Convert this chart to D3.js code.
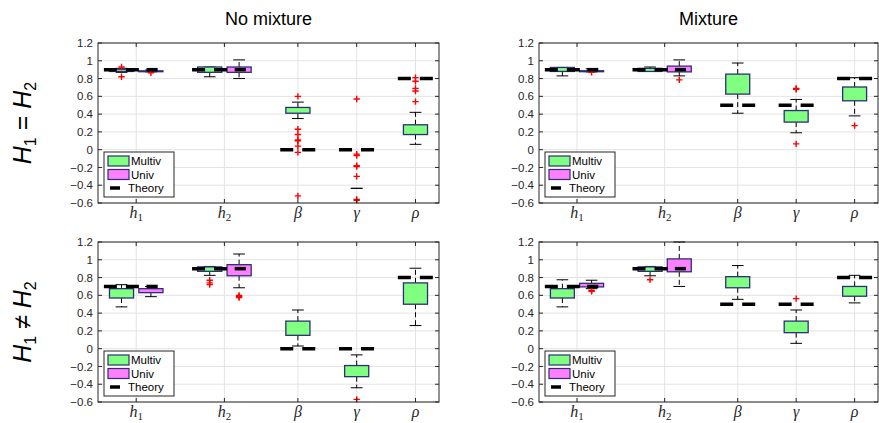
<!DOCTYPE html>
<html><head><meta charset="utf-8">
<script src="https://cdn.jsdelivr.net/npm/d3@7"></script>
<style>
body{margin:0;background:#fff;}
svg{display:block;font-family:"Liberation Sans",Arial,sans-serif;}
</style></head>
<body><svg id="c" width="879" height="423"></svg>
<script>
// ---------- data ----------
const categories = ["h1","h2","β","γ","ρ"];
const categoryTickPos = [2.25, 3.75, 5, 6, 7];
const multivPos = [2, 3.5, 5, 6, 7];
const univPos = [2.5, 4];
const legendLabels = ["Multiv","Univ","Theory"];
const columnTitles = ["No mixture","Mixture"];
const yTicks = [-0.6,-0.4,-0.2,0,0.2,0.4,0.6,0.8,1,1.2];

// stats: [low whisker, q1, median, q3, high whisker, outliers]
const noMixEqMultiv = [
  [0.87,0.88,0.89,0.905,0.915,[0.93,0.82]],
  [0.82,0.87,0.90,0.93,0.93,[]],
  [0.35,0.41,0.44,0.475,0.535,[0.60,0.23,0.17,0.11,0.10,0.04,-0.03,-0.52]],
  [-0.435,-0.435,-0.435,-0.435,-0.435,[0.57,-0.05,-0.065,-0.18,-0.19,-0.30,-0.56,-0.57]],
  [0.06,0.17,0.22,0.28,0.42,[0.54,0.66,0.69,0.77,0.81]]
];
const noMixEqUniv = [
  [0.875,0.877,0.88,0.887,0.895,[0.865]],
  [0.80,0.87,0.90,0.93,1.01,[]]
];
const noMixEqTheory = [0.9,0.9,0,0,0.8];

const mixEqMultiv = [
  [0.83,0.88,0.90,0.925,0.925,[]],
  [0.88,0.88,0.90,0.915,0.93,[]],
  [0.41,0.625,0.72,0.85,0.975,[]],
  [0.19,0.31,0.38,0.44,0.565,[0.68,0.69,0.065]],
  [0.38,0.55,0.65,0.705,0.81,[0.27]]
];
const mixEqUniv = [
  [0.875,0.877,0.88,0.888,0.91,[0.87]],
  [0.83,0.875,0.90,0.94,1.01,[0.785]]
];
const mixEqTheory = [0.9,0.9,0.5,0.5,0.8];

const noMixNeqMultiv = [
  [0.47,0.57,0.63,0.675,0.72,[]],
  [0.825,0.87,0.90,0.92,0.925,[0.77,0.74,0.72]],
  [0.03,0.15,0.24,0.31,0.435,[]],
  [-0.44,-0.315,-0.25,-0.19,-0.07,[-0.57]],
  [0.26,0.50,0.62,0.74,0.905,[]]
];
const noMixNeqUniv = [
  [0.585,0.63,0.65,0.675,0.70,[]],
  [0.685,0.82,0.88,0.945,1.065,[0.60,0.585,0.575]]
];
const noMixNeqTheory = [0.7,0.9,0,0,0.8];

const mixNeqMultiv = [
  [0.47,0.57,0.63,0.675,0.775,[]],
  [0.82,0.87,0.90,0.92,0.925,[0.775]],
  [0.555,0.685,0.75,0.81,0.935,[]],
  [0.06,0.18,0.25,0.31,0.435,[0.563]],
  [0.515,0.59,0.65,0.70,0.825,[]]
];
const mixNeqUniv = [
  [0.675,0.695,0.71,0.735,0.77,[0.655,0.645]],
  [0.70,0.865,0.93,1.01,1.2,[]]
];
const mixNeqTheory = [0.7,0.9,0.5,0.5,0.8];

// ---------- layout ----------
const svg = d3.select("#c");
const colors = {Multiv:"#80ff80", Univ:"#ff80ff", edge:"#2e2e78", axis:"#262626", grid:"#e3e3e3", out:"#ff0000"};
const panels = [
  {x0:98, x1:439, y0:43, y1:203, m:noMixEqMultiv, u:noMixEqUniv, t:noMixEqTheory},
  {x0:539, x1:878, y0:43, y1:203, m:mixEqMultiv, u:mixEqUniv, t:mixEqTheory},
  {x0:98, x1:439, y0:242, y1:402, m:noMixNeqMultiv, u:noMixNeqUniv, t:noMixNeqTheory},
  {x0:539, x1:878, y0:242, y1:402, m:mixNeqMultiv, u:mixNeqUniv, t:mixNeqTheory}
];
const xDomain = [1.6, 7.4];
const boxW = 0.41, capW = 0.2, theoryW = 0.6, univTheoryW = 0.19;

function catLabel(sel, c){
  const map = {h1:["h","1"], h2:["h","2"]};
  if(map[c]){
    sel.append("tspan").attr("font-style","italic").text(map[c][0]);
    sel.append("tspan").attr("font-size",11).attr("dy",3).text(map[c][1]);
  } else {
    sel.append("tspan").attr("font-style","italic").text(c);
  }
}

panels.forEach((p,pi)=>{
  const x = d3.scaleLinear().domain(xDomain).range([p.x0,p.x1]);
  const y = d3.scaleLinear().domain([-0.6,1.2]).range([p.y1,p.y0]);
  const g = svg.append("g");
  const clipId = "clip"+pi;
  svg.append("clipPath").attr("id",clipId).append("rect")
    .attr("x",p.x0).attr("y",p.y0-1).attr("width",p.x1-p.x0).attr("height",p.y1-p.y0+2);

  // grid
  g.selectAll(".gy").data(yTicks).join("line")
    .attr("x1",p.x0).attr("x2",p.x1).attr("y1",d=>y(d)).attr("y2",d=>y(d))
    .attr("stroke",colors.grid).attr("stroke-width",1);
  g.selectAll(".gx").data(categoryTickPos).join("line")
    .attr("x1",d=>x(d)).attr("x2",d=>x(d)).attr("y1",p.y0).attr("y2",p.y1)
    .attr("stroke",colors.grid).attr("stroke-width",1);

  const plot = g.append("g").attr("clip-path",`url(#${clipId})`);

  function drawBox(stats,pos,fill){
    const [lo,q1,med,q3,hi,outs] = stats;
    const cx = x(pos);
    const hw = (x(pos+boxW/2)-x(pos-boxW/2))/2;
    const cw = (x(pos+capW/2)-x(pos-capW/2))/2;
    const bg = plot.append("g");
    // whiskers
    bg.append("line").attr("x1",cx).attr("x2",cx).attr("y1",y(q3)).attr("y2",y(hi))
      .attr("stroke","#000").attr("stroke-width",1).attr("stroke-dasharray","5,3");
    bg.append("line").attr("x1",cx).attr("x2",cx).attr("y1",y(q1)).attr("y2",y(lo))
      .attr("stroke","#000").attr("stroke-width",1).attr("stroke-dasharray","5,3");
    [lo,hi].forEach(v=>{
      bg.append("line").attr("x1",cx-cw).attr("x2",cx+cw).attr("y1",y(v)).attr("y2",y(v))
        .attr("stroke","#000").attr("stroke-width",1);
    });
    bg.append("rect").attr("x",cx-hw).attr("width",2*hw)
      .attr("y",y(q3)).attr("height",Math.max(0,y(q1)-y(q3)))
      .attr("fill",fill).attr("stroke",colors.edge).attr("stroke-width",1.3);
    // outliers
    outs.forEach(v=>{
      const oy = y(v);
      bg.append("path").attr("d",`M${cx-3.2},${oy}H${cx+3.2}M${cx},${oy-3.2}V${oy+3.2}`)
        .attr("stroke",colors.out).attr("stroke-width",1.4);
    });
  }
  p.m.forEach((s,i)=>drawBox(s,multivPos[i],colors.Multiv));
  p.u.forEach((s,i)=>drawBox(s,univPos[i],colors.Univ));

  // theory lines
  p.t.forEach((v,i)=>{
    const pos = multivPos[i];
    plot.append("line").attr("x1",x(pos-theoryW/2)).attr("x2",x(pos+theoryW/2))
      .attr("y1",y(v)).attr("y2",y(v)).attr("stroke","#000").attr("stroke-width",3.5)
      .attr("stroke-dasharray","13,9");
    if(i<univPos.length){
      const up = univPos[i];
      plot.append("line").attr("x1",x(up-univTheoryW/2+0.02)).attr("x2",x(up+univTheoryW/2+0.02))
        .attr("y1",y(v)).attr("y2",y(v)).attr("stroke","#000").attr("stroke-width",3.5);
    }
  });

  // axes box
  g.append("rect").attr("x",p.x0).attr("y",p.y0).attr("width",p.x1-p.x0).attr("height",p.y1-p.y0)
    .attr("fill","none").attr("stroke",colors.axis).attr("stroke-width",1);
  // y ticks left/right inward
  g.selectAll(".tl").data(yTicks).join("path")
    .attr("d",d=>`M${p.x0},${y(d)}h4M${p.x1},${y(d)}h-4`)
    .attr("stroke",colors.axis).attr("stroke-width",1);
  g.selectAll(".tx").data(categoryTickPos).join("path")
    .attr("d",d=>`M${x(d)},${p.y1}v-4M${x(d)},${p.y0}v4`)
    .attr("stroke",colors.axis).attr("stroke-width",1);
  // y tick labels
  g.selectAll(".yl").data(yTicks).join("text")
    .attr("x",p.x0-5).attr("y",d=>y(d)).attr("dy","0.36em")
    .attr("text-anchor","end").attr("font-size",11.5).attr("fill",colors.axis)
    .text(d=>d3.format("")(Math.round(d*10)/10));
  // x labels
  categories.forEach((c,i)=>{
    const t = g.append("text").attr("x",x(categoryTickPos[i])).attr("y",p.y1+15)
      .attr("text-anchor","middle").attr("font-size",16)
      .attr("font-family","'Liberation Serif','DejaVu Serif',serif").attr("fill",colors.axis);
    catLabel(t,c);
  });

  // legend
  const lx = p.x0+6, ly = p.y1-51;
  const lg = g.append("g");
  lg.append("rect").attr("x",lx).attr("y",ly).attr("width",70).attr("height",45)
    .attr("fill","#fff").attr("stroke",colors.axis).attr("stroke-width",1);
  legendLabels.forEach((lab,k)=>{
    const ry = ly+9+k*13.5;
    if(k<2){
      lg.append("rect").attr("x",lx+4).attr("y",ry-5).attr("width",21).attr("height",10)
        .attr("fill",k===0?colors.Multiv:colors.Univ).attr("stroke",colors.edge).attr("stroke-width",1.2);
    } else {
      lg.append("line").attr("x1",lx+6).attr("x2",lx+16).attr("y1",ry).attr("y2",ry)
        .attr("stroke","#000").attr("stroke-width",3.5);
    }
    lg.append("text").attr("x",k<2?lx+27:lx+24).attr("y",ry).attr("dy","0.36em")
      .attr("font-size",11.5).attr("fill","#000").text(lab);
  });
});

// column titles
columnTitles.forEach((t,i)=>{
  const p = panels[i];
  svg.append("text").attr("x",(p.x0+p.x1)/2).attr("y",25).attr("text-anchor","middle")
    .attr("font-size",18).attr("fill","#000").text(t);
});

// row labels
[["=",0],["≠",2]].forEach(([op,pi])=>{
  const p = panels[pi];
  const t = svg.append("text").attr("transform",`translate(31,${(p.y0+p.y1)/2}) rotate(-90)`)
    .attr("text-anchor","middle").attr("font-size",25).attr("fill","#000");
  t.append("tspan").attr("font-style","italic").text("H");
  t.append("tspan").attr("font-size",16).attr("dy",5).text("1");
  t.append("tspan").attr("dy",-5).text(" "+op+" ");
  t.append("tspan").attr("font-style","italic").text("H");
  t.append("tspan").attr("font-size",16).attr("dy",5).text("2");
});
</script></body></html>
